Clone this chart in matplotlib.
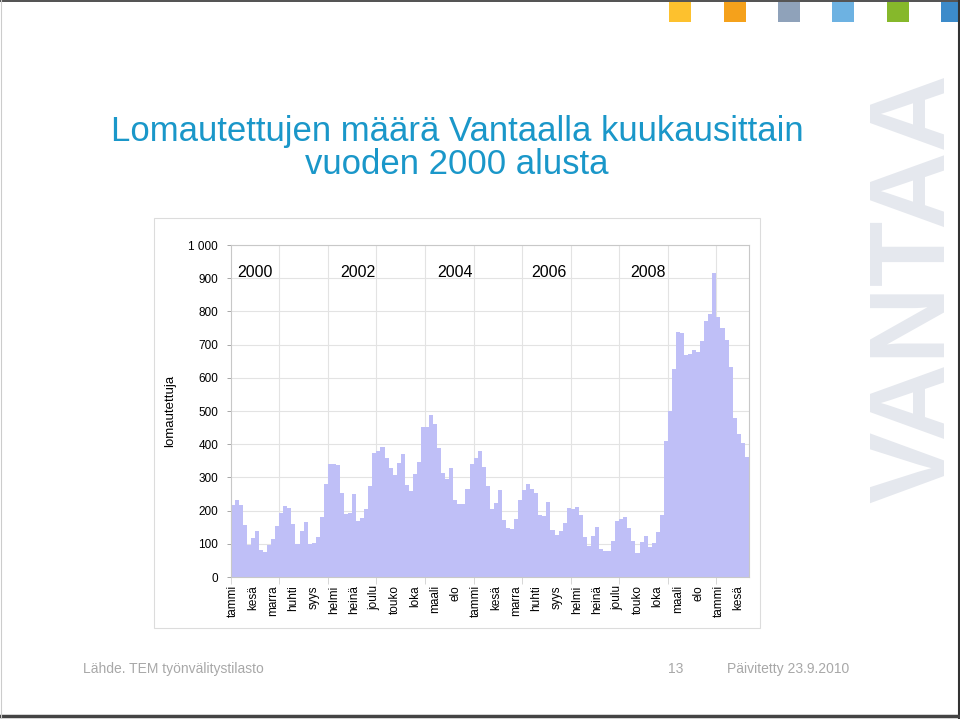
import matplotlib
matplotlib.use("Agg")
import matplotlib.pyplot as plt
import numpy as np
from matplotlib import font_manager
from matplotlib.patches import Rectangle
from matplotlib.lines import Line2D

# monthly laid-off persons in Vantaa, Jan 2000 - Aug 2010
v2000 = [217, 231, 217, 157, 96, 116, 138, 80, 76, 96, 113, 155]
v2001 = [193, 213, 209, 161, 100, 138, 167, 100, 102, 120, 181, 280]
v2002 = [340, 340, 338, 252, 189, 193, 250, 169, 177, 205, 274, 375]
v2003 = [379, 393, 359, 328, 306, 344, 369, 278, 260, 310, 346, 452]
v2004 = [452, 488, 462, 389, 314, 294, 328, 233, 219, 221, 266, 340]
v2005 = [358, 379, 332, 274, 205, 223, 262, 171, 148, 144, 175, 233]
v2006 = [262, 280, 266, 254, 187, 185, 225, 142, 128, 138, 164, 208]
v2007 = [204, 210, 186, 119, 93, 123, 152, 85, 77, 77, 109, 170]
v2008 = [176, 180, 147, 109, 71, 105, 125, 91, 103, 135, 188, 410]
v2009 = [500, 628, 739, 734, 670, 672, 684, 679, 710, 772, 792, 917]
v2010 = [782, 749, 714, 632, 478, 431, 405, 362]

month_names = ["tammi", "helmi", "maali", "huhti", "touko", "kesä",
               "heinä", "elo", "syys", "loka", "marra", "joulu"]
year_labels = ["2000", "2002", "2004", "2006", "2008"]
year_label_pos = [6, 31.5, 55.5, 78.5, 103]  # month positions of the text boxes
y_ticks = [0, 100, 200, 300, 400, 500, 600, 700, 800, 900, 1000]
y_tick_labels = ["0", "100", "200", "300", "400", "500", "600", "700", "800", "900", "1 000"]

values = np.concatenate([v2000, v2001, v2002, v2003, v2004, v2005,
                         v2006, v2007, v2008, v2009, v2010])
months = np.arange(len(values))

W, H = 960, 719
names = {f.name for f in font_manager.fontManager.ttflist}
narrow = "Liberation Sans Narrow" in names
NARROW = ["Liberation Sans Narrow", "Liberation Sans", "DejaVu Sans"] if narrow else ["Liberation Sans", "DejaVu Sans"]
plt.rcParams["font.family"] = ["Liberation Sans", "DejaVu Sans"]

fig = plt.figure(figsize=(W / 100, H / 100), dpi=100)
fig.patch.set_facecolor("white")


def fx(px):
    return px / W


def fy(py):
    return 1 - py / H


# page frame
fig.add_artist(Line2D([0, 1], [fy(0.5), fy(0.5)], color="#333333", lw=1.2))
fig.add_artist(Line2D([fx(958.5), fx(958.5)], [0, 1], color="#333333", lw=1.5))
fig.add_artist(Line2D([0, 1], [fy(716), fy(716)], color="#444444", lw=2.5))
fig.add_artist(Line2D([fx(0.5), fx(0.5)], [0, 1], color="#cccccc", lw=0.8))

# coloured squares at the top
squares = [(669, "#FDC12E"), (724, "#F5A11B"), (778, "#8FA2BA"),
           (832, "#6DB2E2"), (887, "#86B82B"), (941, "#3C8BCA")]
for sx, col in squares:
    fig.add_artist(Rectangle((fx(sx), fy(22)), fx(22), 20 / H, color=col,
                             transform=fig.transFigure, lw=0))

# VANTAA logo
fig.text(fx(916), fy(288), "VANTAA", rotation=90, ha="center", va="center",
         fontsize=77, fontweight="bold", color="#E5E8EE")

# title
title_size = 30 if narrow else 25
fig.text(fx(457), fy(131), "Lomautettujen määrä Vantaalla kuukausittain",
         ha="center", va="center", fontsize=title_size, color="#1A97C9", family=NARROW)
fig.text(fx(457), fy(165), "vuoden 2000 alusta",
         ha="center", va="center", fontsize=title_size, color="#1A97C9", family=NARROW)

# chart box
fig.add_artist(Rectangle((fx(154), fy(628)), fx(760 - 154), (628 - 218) / H,
                         transform=fig.transFigure, fill=False, edgecolor="#DCDCDC", lw=0.8))

ax = fig.add_axes([fx(230.7), fy(577), fx(748.8 - 230.7), (577 - 245) / H])
ax.set_axisbelow(True)
ax.bar(months, values, width=1.0, align="edge", color="#BFBFF7", linewidth=0, zorder=2)
ax.set_xlim(0, len(values))
ax.set_ylim(0, 1000)

ax.set_yticks(y_ticks)
ax.set_yticklabels(y_tick_labels, fontsize=8.5)
ax.tick_params(axis="y", length=3, width=0.6, color="#999999", pad=6)
ax.grid(axis="y", color="#E3E3E3", lw=0.8)

year_bounds = np.arange(0, len(values) + 1, 12)
ax.set_xticks(year_bounds)
ax.set_xticklabels([])
ax.tick_params(axis="x", which="major", length=5, width=0.6, color="#D0D0D0")
for b in year_bounds[1:]:
    ax.axvline(b, color="#E3E3E3", lw=0.8, zorder=1)

lab_pos = np.arange(0, len(values), 5)
ax.set_xticks(lab_pos + 0.5, minor=True)
ax.set_xticklabels([month_names[k % 12] for k in lab_pos], minor=True,
                   rotation=90, fontsize=8.5, va="top", ha="center")
ax.tick_params(axis="x", which="minor", length=0, pad=6)

for s in ax.spines.values():
    s.set_color("#C8C8C8")
    s.set_linewidth(0.8)

for lbl, pos in zip(year_labels, year_label_pos):
    ax.text(pos, 918, lbl, ha="center", va="center", fontsize=11.5, color="black", zorder=3)

ax.set_ylabel("lomautettuja", fontsize=9.5)
ax.yaxis.set_label_coords((176 - 230.7) / (748.8 - 230.7), 0.5)

# footer
fig.text(fx(83), fy(669), "Lähde. TEM työnvälitystilasto", ha="left", va="center",
         fontsize=10, color="#A8A8A8", family=NARROW)
fig.text(fx(676), fy(669), "13", ha="center", va="center",
         fontsize=10, color="#A8A8A8", family=NARROW)
fig.text(fx(727), fy(669), "Päivitetty 23.9.2010", ha="left", va="center",
         fontsize=10, color="#A8A8A8", family=NARROW)

fig.savefig("out.png", dpi=100)
